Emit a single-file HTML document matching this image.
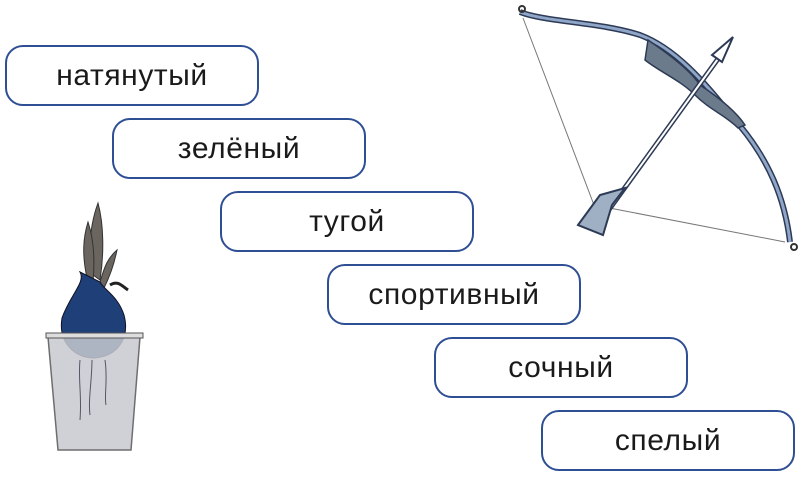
<!DOCTYPE html>
<html><head><meta charset="utf-8"><style>
body{margin:0;width:805px;height:480px;background:#fff;position:relative;overflow:hidden;font-family:"Liberation Sans",sans-serif}
.b{position:absolute;width:250px;height:57px;border:2.5px solid #2f4f95;border-radius:18px;box-sizing:content-box;display:flex;align-items:center;justify-content:center;font-size:30px;color:#1a1a1a;letter-spacing:0.6px}
svg{position:absolute;left:0;top:0}
</style></head><body>
<div class="b" style="left:5px;top:45px">натянутый</div>
<div class="b" style="left:112px;top:118px">зелёный</div>
<div class="b" style="left:220px;top:191px">тугой</div>
<div class="b" style="left:327px;top:264px">спортивный</div>
<div class="b" style="left:434px;top:337px">сочный</div>
<div class="b" style="left:541px;top:410px">спелый</div>
<svg width="805" height="480">
<!-- bow -->
<polyline points="523,18 594,205 785,242" fill="none" stroke="#777" stroke-width="1"/>
<path d="M520,12 C545,22 600,22 640,35 C680,50 710,90 735,120 C770,160 785,200 790,242" fill="none" stroke="#2d3a55" stroke-width="6"/>
<path d="M520,12 C545,22 600,22 640,35 C680,50 710,90 735,120 C770,160 785,200 790,242" fill="none" stroke="#8fa6c8" stroke-width="3"/>
<path d="M648,40 C670,55 690,70 700,85 C715,95 735,110 745,125 L738,128 C725,115 710,110 695,95 C680,80 660,72 645,60 Z" fill="#6c7b8c" stroke="#2d3a55" stroke-width="1.5"/>
<circle cx="522" cy="9" r="3" fill="none" stroke="#333" stroke-width="2"/>
<circle cx="794" cy="247" r="3" fill="none" stroke="#333" stroke-width="2"/>
<line x1="600" y1="222" x2="728" y2="45" stroke="#2d3a55" stroke-width="5"/>
<line x1="600" y1="222" x2="728" y2="45" stroke="#fff" stroke-width="2"/>
<polygon points="733,37 712,55 722,62" fill="#fff" stroke="#2d3a55" stroke-width="2"/>
<polygon points="578,225 600,195 625,188 612,205 603,235" fill="#9fb0c5" stroke="#2d3a55" stroke-width="2"/>
<!-- onion -->
<path d="M93,275 C88,250 90,225 98,203 C104,225 104,255 100,280 Z" fill="#6b6560" stroke="#333"/>
<path d="M87,278 C82,255 83,238 88,222 C94,240 95,260 93,282 Z" fill="#6b6560" stroke="#333"/>
<path d="M100,282 C105,265 108,258 117,250 C114,265 110,276 104,288 Z" fill="#6b6560" stroke="#333"/>
<path d="M110,285 C118,280 122,286 128,290" fill="none" stroke="#222" stroke-width="3"/>
<path d="M80,272 C86,282 70,295 62,318 C58,342 74,358 95,358 C118,356 130,338 124,315 C118,296 104,290 100,282 Z" fill="#1f3f78" stroke="#112"/>
<path d="M48,337 L140,337 L131,450 L58,450 Z" fill="#c8cad0" stroke="#555" stroke-width="1.5" opacity="0.85"/>
<rect x="46" y="333" width="97" height="5" fill="#ddd" stroke="#555"/>
<path d="M80,360 C78,380 82,395 80,420 M92,360 C92,380 88,400 90,415 M105,360 C108,380 104,395 106,405" fill="none" stroke="#556" stroke-width="1"/>
</svg>
</body></html>
